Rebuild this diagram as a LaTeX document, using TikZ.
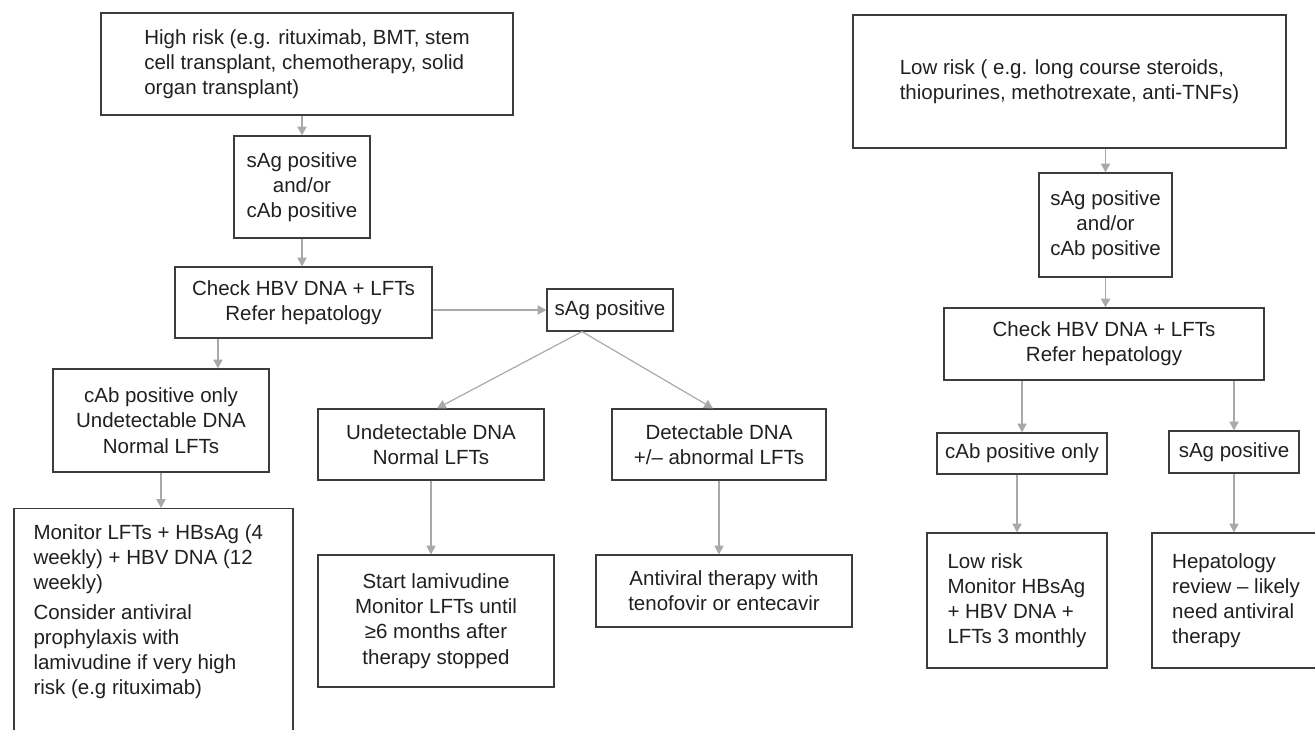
\documentclass[tikz,border=0pt]{standalone}
\usepackage{fontspec}
\setmainfont{Liberation Sans}
\usepackage{xcolor}
\usetikzlibrary{arrows.meta}

\definecolor{boxline}{HTML}{3C3C3C}
\definecolor{arrowgray}{HTML}{A7A9AC}
\definecolor{textdark}{HTML}{231F20}

\tikzset{
    flowbox/.style={draw=boxline, line width=0.6pt, align=center, inner sep=0pt,
        text=textdark, font=\fontsize{10.25}{12.6}\selectfont},
    leftbox/.style={flowbox, align=left},
    arr/.style={draw=arrowgray, line width=0.6pt, -{Triangle[length=4.4pt,width=4.6pt]}}
}

\begin{document}
\begin{tikzpicture}[x=0.5pt, y=-0.5pt]
    \useasboundingbox (0,0) rectangle (1315,729);
    \clip (0,0) rectangle (1315,729);

    % High risk branch
    \node[leftbox, minimum width=206pt, minimum height=51pt] (hrisk) at (307,64)
        {High risk (e.g. rituximab, BMT, stem\\cell transplant, chemotherapy, solid\\organ transplant)};
    \node[flowbox, minimum width=68pt, minimum height=51pt] (hsag) at (302,187)
        {sAg positive\\and/or\\cAb positive};
    \node[flowbox, minimum width=128.5pt, minimum height=35.5pt] (hcheck) at (303.5,302.5)
        {Check HBV DNA + LFTs\\Refer hepatology};
    \node[flowbox, minimum width=108pt, minimum height=51.5pt] (hcab) at (161,420.5)
        {cAb positive only\\Undetectable DNA\\Normal LFTs};
    \node[flowbox, anchor=north, minimum width=139.5pt, inner ysep=8pt] (hmon) at (153.5,508)
        {\parbox[c][130pt][t]{120pt}{\raggedright Monitor LFTs + HBsAg (4\\weekly) + HBV DNA (12\\weekly)\\[2pt]Consider antiviral\\prophylaxis with\\lamivudine if very high\\risk (e.g rituximab)}};
    \node[flowbox, minimum width=63pt, minimum height=21pt] (hsagp) at (610,310)
        {sAg positive};
    \node[flowbox, minimum width=113pt, minimum height=35.5pt] (hund) at (431,444.5)
        {Undetectable DNA\\Normal LFTs};
    \node[flowbox, minimum width=107pt, minimum height=35.5pt] (hdet) at (719,444.5)
        {Detectable DNA\\+/– abnormal LFTs};
    \node[flowbox, minimum width=118pt, minimum height=66pt] (hlam) at (436,621)
        {Start lamivudine\\Monitor LFTs until\\≥6 months after\\therapy stopped};
    \node[flowbox, minimum width=128pt, minimum height=36pt] (hanti) at (724,591)
        {Antiviral therapy with\\tenofovir or entecavir};

    % Low risk branch
    \node[leftbox, minimum width=216.5pt, minimum height=66.5pt] (lrisk) at (1069.5,81.5)
        {Low risk ( e.g. long course steroids,\\thiopurines, methotrexate, anti-TNFs)};
    \node[flowbox, minimum width=66.5pt, minimum height=52pt] (lsag) at (1105.5,225)
        {sAg positive\\and/or\\cAb positive};
    \node[flowbox, minimum width=160pt, minimum height=36pt] (lcheck) at (1104,344)
        {Check HBV DNA + LFTs\\Refer hepatology};
    \node[flowbox, minimum width=85pt, minimum height=20.5pt] (lcab) at (1022,453.5)
        {cAb positive only};
    \node[flowbox, minimum width=65pt, minimum height=21pt] (lsagp) at (1234,452)
        {sAg positive};
    \node[leftbox, minimum width=90pt, minimum height=67.5pt] (lmon) at (1017,600.5)
        {Low risk\\Monitor HBsAg\\+ HBV DNA +\\LFTs 3 monthly};
    \node[leftbox, minimum width=84pt, minimum height=67.5pt] (lhep) at (1236,600.5)
        {Hepatology\\review – likely\\need antiviral\\therapy};

    % Connectors
    \coordinate (hcd) at (218,0);
    \coordinate (hfork) at (582,0);
    \draw[arr] (hrisk.south -| hsag.north) -- (hsag.north);
    \draw[arr] (hsag.south) -- (hsag.south |- hcheck.north);
    \draw[arr] (hcheck.south -| hcd) -- (hcab.north -| hcd);
    \draw[arr] (hcab.south) -- (hcab.south |- hmon.north);
    \draw[arr] (hcheck.east |- hsagp.west) -- (hsagp.west);
    \draw[arr] (hsagp.south -| hfork) -- ([xshift=3pt]hund.north);
    \draw[arr] (hsagp.south -| hfork) -- ([xshift=-3pt]hdet.north);
    \draw[arr] (hund.south) -- (hund.south |- hlam.north);
    \draw[arr] (hdet.south) -- (hdet.south |- hanti.north);

    \draw[arr] (lrisk.south -| lsag.north) -- (lsag.north);
    \draw[arr] (lsag.south) -- (lsag.south |- lcheck.north);
    \draw[arr] (lcheck.south -| lcab.north) -- (lcab.north);
    \draw[arr] (lcheck.south -| lsagp.north) -- (lsagp.north);
    \draw[arr] (lcab.south -| lmon.north) -- (lmon.north);
    \draw[arr] (lsagp.south) -- (lsagp.south |- lhep.north);

\end{tikzpicture}
\end{document}
